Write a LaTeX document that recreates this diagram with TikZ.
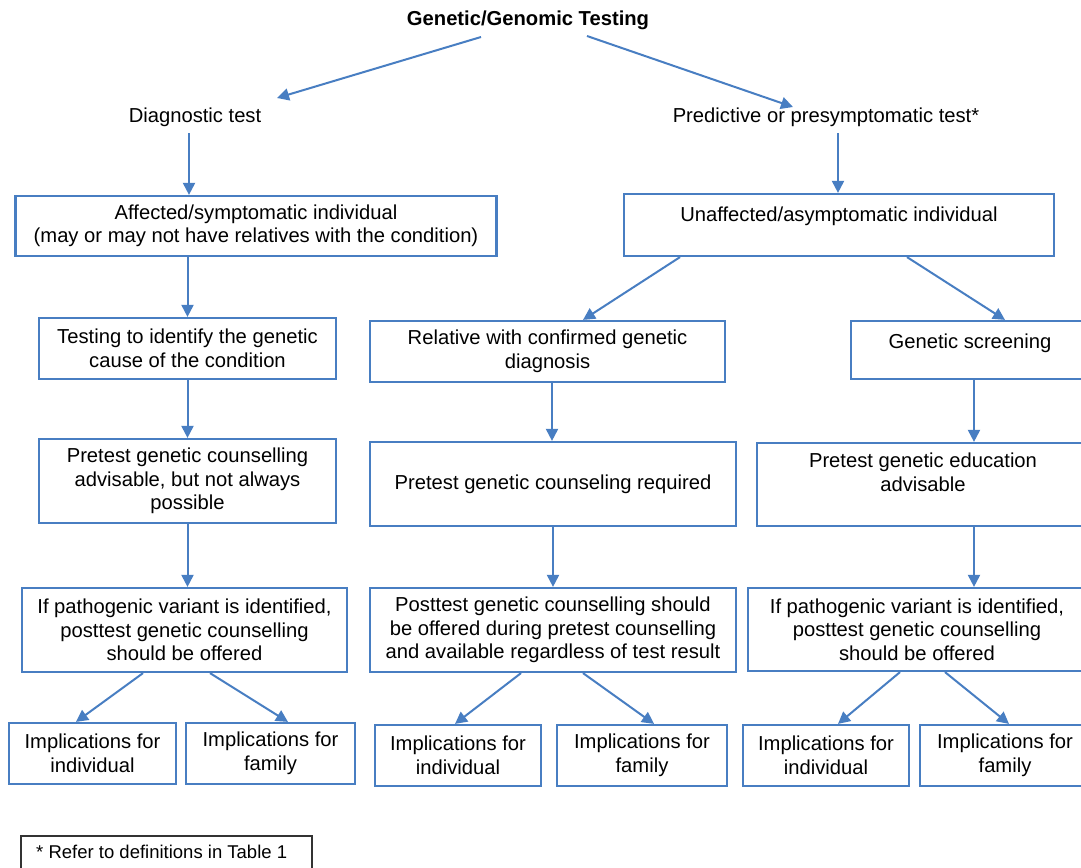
\documentclass[tikz,border=0pt]{standalone}
\usepackage{fontspec}
\setmainfont{Liberation Sans}
\usetikzlibrary{arrows.meta}
\definecolor{lineblue}{RGB}{72,126,194}
\tikzset{
  box/.style={draw=lineblue, line width=2.2pt, align=center, inner sep=0pt, fill=white},
  lbl/.style={align=center, inner sep=0pt},
  arr/.style={draw=lineblue, line width=2pt, -{Triangle[length=12pt,width=12pt]}},
  footbox/.style={draw=black!80, line width=1.6pt, inner sep=0pt}
}
\begin{document}
\begin{tikzpicture}[x=1pt,y=-1pt,font=\fontsize{20.2}{23.5}\selectfont]
\useasboundingbox (0,0) rectangle (1081,867);
\clip (0,0) rectangle (1081,867);
% titles
\node[lbl, font=\fontsize{20.2}{23.5}\selectfont\bfseries] (title) at (528,20) {Genetic/Genomic Testing};
\node[lbl] (diag) at (195,117) {Diagnostic test};
\node[lbl] (pred) at (826,117) {Predictive or presymptomatic test*};
% row 1
\node[box, minimum width=481pt, minimum height=60pt] (aff) at (256,226) {Affected/symptomatic individual\\(may or may not have relatives with the condition)};
\node[box, minimum width=430pt, minimum height=62pt] (unaff) at (839,225) {Unaffected/asymptomatic individual\\[-8pt]\strut};
% row 2
\node[box, minimum width=297pt, minimum height=61pt] (test) at (187.5,348.5) {Testing to identify the genetic\\cause of the condition};
\node[box, minimum width=355pt, minimum height=61pt] (rel) at (547.5,351.5) {Relative with confirmed genetic\\diagnosis};
\node[box, minimum width=238pt, minimum height=58pt] (scr) at (970,350) {Genetic screening\\[-12pt]\strut};
% row 3
\node[box, minimum width=297pt, minimum height=84pt] (pc) at (187.5,481) {Pretest genetic counselling\\advisable, but not always\\possible};
\node[box, minimum width=366pt, minimum height=84pt] (pcr) at (553,484) {Pretest genetic counseling required};
\node[box, minimum width=332pt, minimum height=83pt] (ped) at (923,484.5) {Pretest genetic education\\advisable\\[-6pt]\strut};
% row 4
\node[box, minimum width=325pt, minimum height=84pt] (ip1) at (184.5,630) {If pathogenic variant is identified,\\posttest genetic counselling\\should be offered};
\node[box, minimum width=366pt, minimum height=84pt] (post) at (553,630) {Posttest genetic counselling should\\be offered during pretest counselling\\and available regardless of test result};
\node[box, minimum width=338pt, minimum height=83pt] (ip3) at (917,629.5) {If pathogenic variant is identified,\\posttest genetic counselling\\should be offered};
% row 5
\node[box, minimum width=167pt, minimum height=61pt] (i1) at (92.5,753.5) {Implications for\\individual};
\node[box, minimum width=169pt, minimum height=61pt] (f1) at (270.5,753.5) {Implications for\\family};
\node[box, minimum width=166pt, minimum height=61pt] (i2) at (458,755.5) {Implications for\\individual};
\node[box, minimum width=170pt, minimum height=61pt] (f2) at (642,755.5) {Implications for\\family};
\node[box, minimum width=166pt, minimum height=61pt] (i3) at (826,755.5) {Implications for\\individual};
\node[box, minimum width=170pt, minimum height=61pt] (f3) at (1005,755.5) {Implications for\\family};
% footnote
\node[footbox, minimum width=291pt, minimum height=36pt, anchor=north west] (foot) at (20,835) {};
\node[lbl, anchor=west, font=\fontsize{18.5}{22}\selectfont] (foottext) at ([xshift=16pt,yshift=2pt]foot.west) {* Refer to definitions in Table 1};
% connectors
\draw[arr] ([xshift=-47pt,yshift=-17pt]title.center) -- ([xshift=82pt,yshift=19pt]diag.center);
\draw[arr] ([xshift=59pt,yshift=-16pt]title.center) -- ([xshift=-33pt,yshift=10pt]pred.center);
\draw[arr] ([xshift=-6pt,yshift=-16pt]diag.center) coordinate (d1) -- (d1 |- aff.north);
\draw[arr] ([xshift=12pt,yshift=-16pt]pred.center) coordinate (p1) -- (p1 |- unaff.north);
\draw[arr] (test.north |- aff.south) -- (test.north);
\draw[arr] (test.south) -- (pc.north);
\draw[arr] (pc.south) -- (pc.south |- ip1.north);
\draw[arr] ([xshift=-41.5pt]ip1.south) -- ([xshift=-16.5pt]i1.north);
\draw[arr] ([xshift=25.5pt]ip1.south) -- ([xshift=17.5pt]f1.north);
\draw[arr] ([xshift=-159pt]unaff.south) -- ([xshift=35.5pt]rel.north);
\draw[arr] ([xshift=68pt]unaff.south) -- ([xshift=35pt]scr.north);
\draw[arr] ([xshift=4.5pt]rel.south) coordinate (r1) -- (r1 |- pcr.north);
\draw[arr] (pcr.south) -- (post.north);
\draw[arr] ([xshift=4pt]scr.south) coordinate (s1) -- (s1 |- ped.north);
\draw[arr] ([xshift=51pt]ped.south) coordinate (e1) -- (e1 |- ip3.north);
\draw[arr] ([xshift=-32pt]post.south) -- ([xshift=-3pt]i2.north);
\draw[arr] ([xshift=30pt]post.south) -- ([xshift=12pt]f2.north);
\draw[arr] ([xshift=-17pt]ip3.south) -- ([xshift=12pt]i3.north);
\draw[arr] ([xshift=28pt]ip3.south) -- ([xshift=4pt]f3.north);
\end{tikzpicture}
\end{document}
